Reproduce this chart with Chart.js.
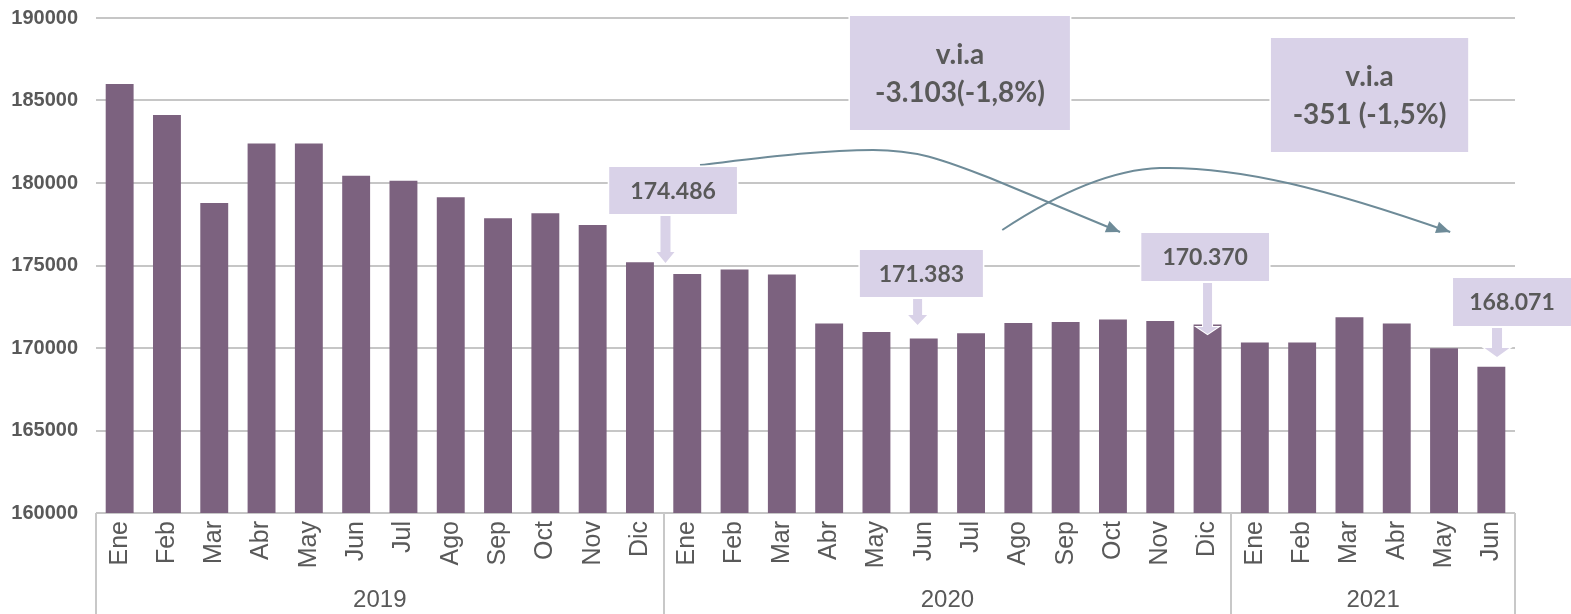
<!DOCTYPE html>
<html>
<head>
<meta charset="utf-8">
<script src="https://cdn.jsdelivr.net/npm/chart.js@4.4.1/dist/chart.umd.min.js"></script>
<style>
  html, body { margin: 0; padding: 0; background: #ffffff; }
  #wrap { width: 1571px; height: 614px; position: relative; }
</style>
</head>
<body>
<div id="wrap"><canvas id="c" width="1571" height="614"></canvas></div>
<script>
// ---- data ----
const months = ['Ene','Feb','Mar','Abr','May','Jun','Jul','Ago','Sep','Oct','Nov','Dic'];
const years = ['2019','2020','2021'];
const monthsPerYear = [12, 12, 6];
const values2019 = [186000, 184120, 178790, 182400, 182400, 180440, 180140, 179130, 177860, 178160, 177450, 175200];
const values2020 = [174486, 174760, 174460, 171490, 170965, 170580, 170890, 171510, 171570, 171720, 171630, 171430];
const values2021 = [170340, 170340, 171870, 171490, 169980, 168860];
const yTicks = [160000, 165000, 170000, 175000, 180000, 185000, 190000];

const labels = [];
monthsPerYear.forEach((n) => { for (let k = 0; k < n; k++) labels.push(months[k]); });
const values = values2019.concat(values2020, values2021);

// ---- annotation texts ----
const calloutTexts = ['174.486', '171.383', '170.370', '168.071'];
const viaTexts = [['v.i.a', '-3.103(-1,8%)'], ['v.i.a', '-351 (-1,5%)']];

const TXT = '#595959';
const BOX = '#d9d2e8';
const CURVE = '#6e8b98';

// boxes anchored in (category index, value) space
const calloutBoxes = [
  { i0: 10.35, i1: 13.05, v0: 180970, v1: 178121, text: calloutTexts[0] },
  { i0: 15.65, i1: 18.25, v0: 175939, v1: 173091, text: calloutTexts[1] },
  { i0: 21.60, i1: 24.30, v0: 176970, v1: 174061, text: calloutTexts[2] },
  { i0: 28.19, i1: 30.75, v0: 174242, v1: 171333, text: calloutTexts[3] }
];
const arrows = [
  { i: 11.54, top: 178000, base: 175818, tip: 175152, sw: 5, hw: 9 },
  { i: 16.87, top: 172970, base: 172000, tip: 171394, sw: 4.5, hw: 9.5 },
  { i: 23.00, top: 173939, base: 171273, tip: 170848, sw: 4.5, hw: 10.5 },
  { i: 29.12, top: 171212, base: 170000, tip: 169455, sw: 5, hw: 12.5 }
];
const viaBoxes = [
  { i0: 15.44, i1: 20.09, v0: 190121, v1: 183212, lines: viaTexts[0] },
  { i0: 24.34, i1: 28.51, v0: 188788, v1: 181879, lines: viaTexts[1] }
];
const curves = [
  { start: [12.27, 181091], segs: [
      ['c', [13.54, 181515], [14.81, 182000], [15.93, 182000]],
      ['c', [16.92, 182000], [17.45, 181333], [18.40, 180303]],
      ['l', [21.15, 177030]] ] },
  { start: [18.66, 177152], segs: [
      ['c', [19.46, 178667], [20.73, 180788], [21.99, 180909]],
      ['c', [23.68, 181030], [25.59, 179576], [28.13, 177030]] ] }
];

const annotPlugin = {
  id: 'annot',
  afterDraw(chart) {
    const ctx = chart.ctx;
    const xs = chart.scales.x, ys = chart.scales.y;
    const x0 = xs.getPixelForValue(0), step = xs.getPixelForValue(1) - x0;
    const X = (i) => x0 + i * step;
    const Y = (v) => ys.getPixelForValue(v);
    const area = chart.chartArea;

    // multi-level category axis: separators + year labels
    ctx.save();
    ctx.strokeStyle = '#c8c8c8';
    ctx.lineWidth = 2;
    let start = 0;
    const bounds = [-0.5];
    monthsPerYear.forEach((n) => { start += n; bounds.push(start - 0.5); });
    bounds.forEach((b) => {
      const px = Math.round(X(b));
      ctx.beginPath(); ctx.moveTo(px, area.bottom); ctx.lineTo(px, chart.height); ctx.stroke();
    });
    ctx.fillStyle = TXT;
    ctx.font = '24px "Liberation Sans", Arial, sans-serif';
    ctx.textAlign = 'center';
    ctx.textBaseline = 'middle';
    for (let k = 0; k < years.length; k++) {
      const cx = (X(bounds[k]) + X(bounds[k + 1])) / 2;
      ctx.fillText(years[k], cx, 600);
    }
    ctx.restore();

    // curves
    ctx.save();
    ctx.strokeStyle = CURVE;
    ctx.fillStyle = CURVE;
    ctx.lineWidth = 2;
    curves.forEach((cv) => {
      ctx.beginPath();
      ctx.moveTo(X(cv.start[0]), Y(cv.start[1]));
      let prev = [X(cv.start[0]), Y(cv.start[1])];
      let end = prev;
      cv.segs.forEach((s) => {
        if (s[0] === 'c') {
          const c1 = [X(s[1][0]), Y(s[1][1])], c2 = [X(s[2][0]), Y(s[2][1])], e = [X(s[3][0]), Y(s[3][1])];
          ctx.bezierCurveTo(c1[0], c1[1], c2[0], c2[1], e[0], e[1]);
          prev = c2; end = e;
        } else {
          const e = [X(s[1][0]), Y(s[1][1])];
          ctx.lineTo(e[0], e[1]);
          prev = end; end = e;
        }
      });
      ctx.stroke();
      const ang = Math.atan2(end[1] - prev[1], end[0] - prev[0]);
      const L = 14, W = 6;
      ctx.beginPath();
      ctx.moveTo(end[0], end[1]);
      ctx.lineTo(end[0] - L * Math.cos(ang) + W * Math.sin(ang), end[1] - L * Math.sin(ang) - W * Math.cos(ang));
      ctx.lineTo(end[0] - L * Math.cos(ang) - W * Math.sin(ang), end[1] - L * Math.sin(ang) + W * Math.cos(ang));
      ctx.closePath();
      ctx.fill();
    });
    ctx.restore();

    // boxes
    const drawBox = (b) => {
      const l = X(b.i0), r = Math.min(X(b.i1), chart.width), t = Y(b.v0), bt = Y(b.v1);
      ctx.fillStyle = BOX;
      ctx.strokeStyle = '#ffffff';
      ctx.lineWidth = 3;
      ctx.strokeRect(l, t, r - l, bt - t);
      ctx.fillRect(l, t, r - l, bt - t);
      return { l, r, t, bt, cx: (l + r) / 2, cy: (t + bt) / 2 };
    };
    ctx.save();
    ctx.textAlign = 'center';
    ctx.textBaseline = 'middle';
    calloutBoxes.forEach((b) => {
      const g = drawBox(b);
      ctx.fillStyle = TXT;
      ctx.font = 'bold 23px Lato, "Open Sans", sans-serif';
      ctx.fillText(b.text, g.cx, g.cy + 1);
    });
    viaBoxes.forEach((b) => {
      const g = drawBox(b);
      ctx.fillStyle = TXT;
      ctx.font = 'bold 28px Lato, "Open Sans", sans-serif';
      ctx.fillText(b.lines[0], g.cx, g.cy - 18);
      ctx.fillText(b.lines[1], g.cx, g.cy + 20);
    });
    // down arrows
    arrows.forEach((a) => {
      const cx = X(a.i), t = Y(a.top), bs = Y(a.base), tp = Y(a.tip);
      ctx.beginPath();
      ctx.moveTo(cx - a.sw, t);
      ctx.lineTo(cx + a.sw, t);
      ctx.lineTo(cx + a.sw, bs);
      ctx.lineTo(cx + a.hw, bs);
      ctx.lineTo(cx, tp);
      ctx.lineTo(cx - a.hw, bs);
      ctx.lineTo(cx - a.sw, bs);
      ctx.closePath();
      ctx.strokeStyle = '#ffffff';
      ctx.lineWidth = 2;
      ctx.stroke();
      ctx.fillStyle = BOX;
      ctx.fill();
    });
    ctx.restore();
  }
};

new Chart(document.getElementById('c'), {
  type: 'bar',
  data: {
    labels: labels,
    datasets: [{
      data: values,
      backgroundColor: '#7c627f',
      borderWidth: 0,
      barPercentage: 0.59,
      categoryPercentage: 1.0
    }]
  },
  options: {
    responsive: false,
    animation: false,
    devicePixelRatio: 1,
    layout: { padding: { top: 18, right: 56, left: 0, bottom: 0 } },
    plugins: { legend: { display: false }, tooltip: { enabled: false } },
    scales: {
      x: {
        type: 'category',
        grid: { display: false, drawTicks: false },
        border: { display: false },
        ticks: {
          color: TXT,
          font: { family: '"Liberation Sans", Arial, sans-serif', size: 25 },
          minRotation: 90, maxRotation: 90,
          autoSkip: false,
          padding: 8
        },
        afterFit(scale) { scale.height = 101; }
      },
      y: {
        min: 160000, max: 190000,
        afterBuildTicks(scale) { scale.ticks = yTicks.map((v) => ({ value: v })); },
        grid: { color: '#c6c6c6', lineWidth: 2, drawTicks: false },
        border: { display: false },
        ticks: {
          color: TXT,
          font: { family: '"Liberation Sans", Arial, sans-serif', size: 20, weight: 'bold' },
          padding: 18,
          callback: (v) => String(v)
        },
        afterFit(scale) { scale.width = 96; scale.paddingTop = 0; scale.paddingBottom = 0; }
      }
    }
  },
  plugins: [annotPlugin]
});
</script>
</body>
</html>
